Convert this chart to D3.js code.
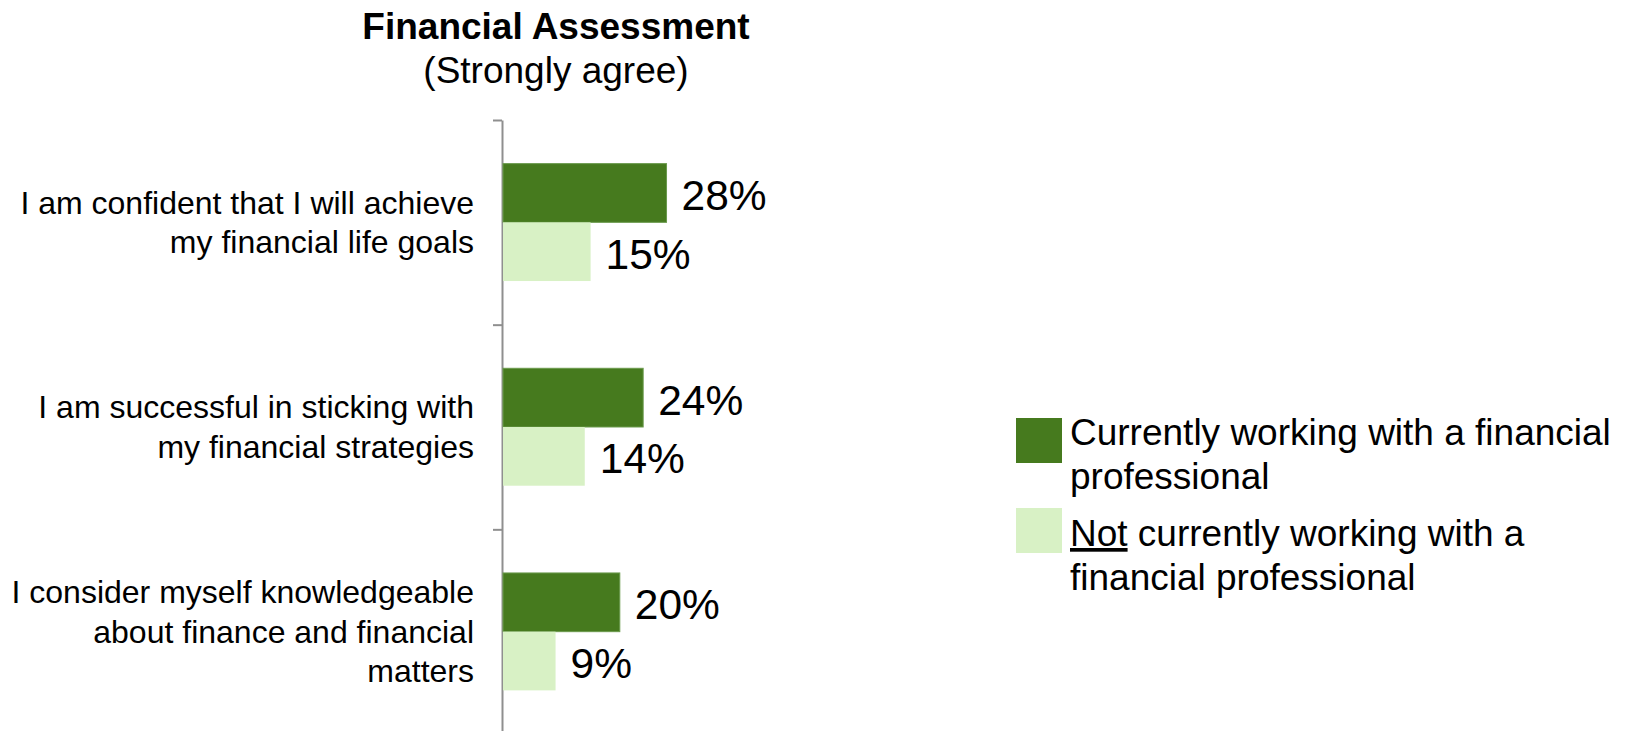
<!DOCTYPE html>
<html>
<head>
<meta charset="utf-8">
<script src="https://cdn.jsdelivr.net/npm/d3@7"></script>
<style>
  html, body { margin: 0; padding: 0; background: #fff; }
  svg { display: block; font-family: "Liberation Sans", Arial, sans-serif; }
</style>
</head>
<body>
<svg id="chart" width="1633" height="731"></svg>
<script>
// Survey statements (one entry per line of the wrapped label)
const categories = [
  ["I am confident that I will achieve", "my financial life goals"],
  ["I am successful in sticking with", "my financial strategies"],
  ["I consider myself knowledgeable", "about finance and financial", "matters"]
];
const seriesKeys = ["working", "notWorking"];
// Percent answering "Strongly agree"
const workingValues = [28, 24, 20];
const notWorkingValues = [15, 14, 9];
const seriesColors = ["#467A1E", "#D8F1C5"];
const legendLines = [
  [["Currently working with a financial"], ["professional"]],
  [["Not", " currently working with a"], ["financial professional"]]
];
const titleText = "Financial Assessment";
const subtitleText = "(Strongly agree)";

const svg = d3.select("#chart");

const catIdx = categories.map((d, i) => i);
const values = [workingValues, notWorkingValues];

// Scales
const x = d3.scaleLinear().domain([0, 30]).range([503, 503 + 30 * 5.84]);
const y0 = d3.scaleBand().domain(catIdx).range([120, 734]).paddingInner(0).paddingOuter(0);
const y1 = d3.scaleBand().domain(seriesKeys).range([0, y0.bandwidth()]).paddingInner(0).paddingOuter(0.743);

// Title
svg.append("text")
  .attr("x", 556).attr("y", 38.5)
  .attr("text-anchor", "middle")
  .attr("font-size", 37).attr("font-weight", "bold").attr("fill", "#000")
  .text(titleText);
svg.append("text")
  .attr("x", 556).attr("y", 83)
  .attr("text-anchor", "middle")
  .attr("font-size", 37).attr("fill", "#000")
  .text(subtitleText);

// Category axis with tick marks between groups
const edge = d3.scaleLinear().domain([0, categories.length]).range(y0.range());
const axis = svg.append("g")
  .attr("transform", `translate(${x(0) - 1},0)`)
  .call(d3.axisLeft(edge)
    .tickValues(d3.range(categories.length + 1))
    .tickFormat("")
    .tickSizeInner(9)
    .tickSizeOuter(0));
axis.select(".domain").attr("stroke", "#8f8f8f").attr("stroke-width", 2);
axis.selectAll(".tick line").attr("stroke", "#8f8f8f").attr("stroke-width", 2);

// Bars
const groups = svg.append("g").selectAll("g")
  .data(catIdx)
  .join("g")
  .attr("transform", i => `translate(0,${y0(i)})`);

groups.selectAll("rect")
  .data(i => seriesKeys.map((k, s) => ({ key: k, s, v: values[s][i] })))
  .join("rect")
  .attr("x", x(0))
  .attr("y", d => y1(d.key))
  .attr("width", d => x(d.v) - x(0))
  .attr("height", y1.bandwidth())
  .attr("fill", d => seriesColors[d.s])
  .attr("stroke", d => d.s === 0 ? "#6a9a4c" : "none")
  .attr("stroke-width", 1);

// Value labels
groups.selectAll("text.val")
  .data(i => seriesKeys.map((k, s) => ({ key: k, s, v: values[s][i] })))
  .join("text")
  .attr("class", "val")
  .attr("x", d => x(d.v) + 15)
  .attr("y", d => y1(d.key) + y1.bandwidth() / 2 + 17)
  .attr("font-size", 42.5)
  .attr("fill", "#000")
  .text(d => d.v + "%");

// Category labels, right-aligned against the axis
const lineH = 39.6;
svg.append("g").selectAll("text")
  .data(catIdx)
  .join("text")
  .attr("text-anchor", "end")
  .attr("font-size", 32)
  .attr("fill", "#000")
  .each(function(i) {
    const lines = categories[i];
    const cy = y0(i) + y0.bandwidth() / 2;
    const first = cy - (lines.length - 1) / 2 * lineH + 11;
    d3.select(this).selectAll("tspan")
      .data(lines)
      .join("tspan")
      .attr("x", 474)
      .attr("y", (l, j) => first + j * lineH)
      .text(l => l);
  });

// Legend
const legend = svg.append("g");
const legendRow = d3.scaleOrdinal().domain(seriesKeys).range([418, 508]);
const legendBaseline = d3.scaleOrdinal().domain(seriesKeys).range([445, 546]);
seriesKeys.forEach((k, s) => {
  const top = legendRow(k);
  legend.append("rect")
    .attr("x", 1016).attr("y", top)
    .attr("width", 46).attr("height", 45)
    .attr("fill", seriesColors[s]);
  const t = legend.append("text")
    .attr("font-size", 37).attr("fill", "#000");
  legendLines[s].forEach((parts, j) => {
    parts.forEach((p, pi) => {
      const ts = t.append("tspan").text(p);
      if (pi === 0) ts.attr("x", 1070).attr("y", legendBaseline(k) + j * 44);
      if (s === 1 && j === 0 && pi === 0) ts.attr("text-decoration", "underline");
    });
  });
});
</script>
</body>
</html>
